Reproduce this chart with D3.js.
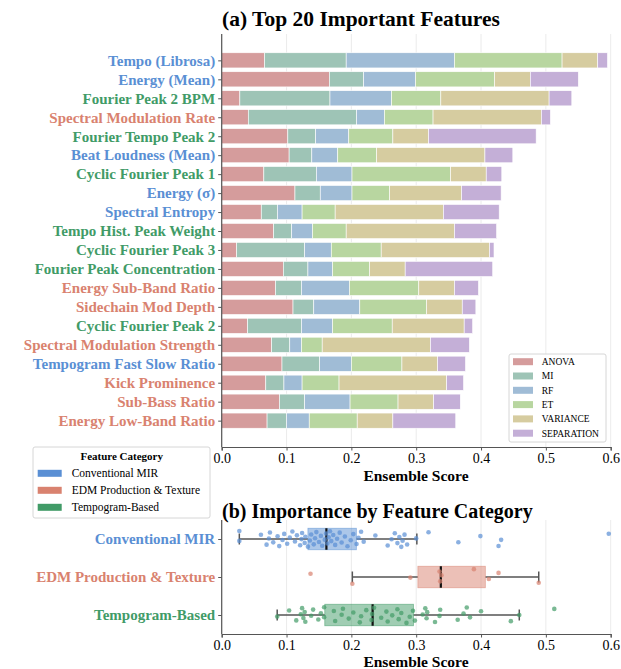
<html>
<head>
<meta charset="utf-8">
<script src="https://d3js.org/d3.v7.min.js"></script>
<style>
  body { margin: 0; background: #fff; }
  text { font-family: "Liberation Serif", "Times New Roman", serif; }
</style>
</head>
<body>
<svg id="chart" width="621" height="669"></svg>
<script>
// ---- data ----
var features = ["Tempo (Librosa)", "Energy (Mean)", "Fourier Peak 2 BPM", "Spectral Modulation Rate",
  "Fourier Tempo Peak 2", "Beat Loudness (Mean)", "Cyclic Fourier Peak 1", "Energy (\u03c3)",
  "Spectral Entropy", "Tempo Hist. Peak Weight", "Cyclic Fourier Peak 3", "Fourier Peak Concentration",
  "Energy Sub-Band Ratio", "Sidechain Mod Depth", "Cyclic Fourier Peak 2", "Spectral Modulation Strength",
  "Tempogram Fast Slow Ratio", "Kick Prominence", "Sub-Bass Ratio", "Energy Low-Band Ratio"];
// 0 = Conventional MIR, 1 = EDM Production & Texture, 2 = Tempogram-Based
var featureCat = [0, 0, 2, 1, 2, 0, 2, 0, 0, 2, 2, 2, 1, 1, 2, 1, 0, 1, 1, 1];

var anova      = [0.066, 0.166, 0.028, 0.041, 0.102, 0.104, 0.065, 0.113, 0.061, 0.080, 0.023, 0.095, 0.083, 0.110, 0.040, 0.077, 0.093, 0.068, 0.089, 0.070];
var mi         = [0.126, 0.053, 0.139, 0.167, 0.043, 0.035, 0.081, 0.039, 0.025, 0.028, 0.105, 0.038, 0.040, 0.032, 0.083, 0.028, 0.058, 0.028, 0.039, 0.030];
var rf         = [0.167, 0.080, 0.095, 0.043, 0.051, 0.040, 0.055, 0.049, 0.038, 0.032, 0.041, 0.038, 0.074, 0.071, 0.048, 0.018, 0.049, 0.028, 0.070, 0.035];
var et         = [0.166, 0.122, 0.076, 0.075, 0.068, 0.060, 0.152, 0.058, 0.051, 0.052, 0.077, 0.057, 0.107, 0.103, 0.092, 0.032, 0.078, 0.057, 0.074, 0.074];
var variance   = [0.055, 0.055, 0.167, 0.167, 0.055, 0.167, 0.055, 0.111, 0.167, 0.167, 0.167, 0.055, 0.055, 0.055, 0.111, 0.167, 0.055, 0.166, 0.055, 0.055];
var separation = [0.015, 0.074, 0.035, 0.014, 0.166, 0.043, 0.024, 0.061, 0.086, 0.065, 0.007, 0.135, 0.037, 0.021, 0.013, 0.060, 0.043, 0.026, 0.041, 0.097];

var methods = ["ANOVA", "MI", "RF", "ET", "VARIANCE", "SEPARATION"];
var methodColors = ["#d59c9c", "#9ec4b6", "#a0bcd6", "#b8d6a0", "#d6cca0", "#c4afd7"];

var categories = ["Conventional MIR", "EDM Production & Texture", "Tempogram-Based"];
var catColors = ["#5a8fd4", "#d9826f", "#419b67"];

var xTicks = [0, 0.1, 0.2, 0.3, 0.4, 0.5, 0.6];

// box statistics per category
var boxQ1  = [0.133, 0.3026, 0.159];
var boxMed = [0.1615, 0.338, 0.2328];
var boxQ3  = [0.2077, 0.4066, 0.2958];
var whiskLo = [0.0272, 0.2015, 0.0856];
var whiskHi = [0.301, 0.489, 0.459];

// individual feature scores per category
var mirScores = [0.0272, 0.0272, 0.0605, 0.0692, 0.0728, 0.0744, 0.0795, 0.0862, 0.0887, 0.0938, 0.0964, 0.101,
  0.105, 0.109, 0.113, 0.116, 0.121, 0.123, 0.124, 0.128, 0.129, 0.133, 0.136, 0.138, 0.142, 0.144, 0.146,
  0.150, 0.153, 0.155, 0.159, 0.161, 0.163, 0.165, 0.167, 0.169, 0.172, 0.175, 0.178, 0.182, 0.185, 0.190,
  0.194, 0.199, 0.203, 0.208, 0.211, 0.215, 0.219, 0.237, 0.256, 0.262, 0.267, 0.271, 0.274, 0.277, 0.279,
  0.282, 0.286, 0.300, 0.319, 0.365, 0.399, 0.427, 0.431, 0.597];
var edmScores = [0.137, 0.2015, 0.291, 0.336, 0.337, 0.339, 0.389, 0.412, 0.427, 0.489];
var tempoScores = [0.0856, 0.104, 0.115, 0.122, 0.124, 0.126, 0.128, 0.129, 0.138, 0.141, 0.149, 0.153, 0.158,
  0.158, 0.173, 0.175, 0.185, 0.187, 0.196, 0.203, 0.213, 0.215, 0.223, 0.231, 0.232, 0.235, 0.246, 0.254,
  0.256, 0.263, 0.271, 0.273, 0.277, 0.285, 0.29, 0.295, 0.298, 0.31, 0.314, 0.316, 0.317, 0.329, 0.336,
  0.337, 0.364, 0.373, 0.378, 0.383, 0.400, 0.446, 0.459, 0.513];
var catScores = [mirScores, edmScores, tempoScores];

// ---- drawing ----
var svg = d3.select("#chart");
var x = d3.scaleLinear().domain([0, 0.6]).range([221.7, 610.7]);
var spine = "#555";

function drawXAxis(yPos, top) {
  svg.append("g").selectAll("line").data(xTicks).enter().append("line")
    .attr("x1", function(d) { return x(d); }).attr("x2", function(d) { return x(d); })
    .attr("y1", top).attr("y2", yPos)
    .attr("stroke", "#e6e6e6").attr("stroke-width", 0.8);
  var ax = svg.append("g").attr("transform", "translate(0," + yPos + ")")
    .call(d3.axisBottom(x).tickValues(xTicks).tickFormat(d3.format(".1f")).tickSize(3.5).tickPadding(3));
  ax.select(".domain").attr("stroke", spine).attr("stroke-width", 1.2);
  ax.selectAll(".tick line").attr("stroke", spine);
  ax.selectAll("text").style("font-family", "Liberation Serif").style("font-size", "14px").attr("fill", "#000");
}

// (a) stacked bars
var yA = d3.scaleLinear().domain([-1.39, 20.39]).range([34, 447]);
var table = features.map(function(f, i) {
  return { ANOVA: anova[i], MI: mi[i], RF: rf[i], ET: et[i], VARIANCE: variance[i], SEPARATION: separation[i] };
});
var stacked = d3.stack().keys(methods)(table);

drawXAxis(447, 34);

svg.append("g").selectAll("g").data(stacked).enter().append("g")
  .attr("fill", function(d, i) { return methodColors[i]; })
  .selectAll("rect").data(function(d) { return d; }).enter().append("rect")
  .attr("x", function(d) { return x(d[0]); })
  .attr("width", function(d) { return x(d[1]) - x(d[0]); })
  .attr("y", function(d, i) { return yA(i - 0.4); })
  .attr("height", yA(0.8) - yA(0))
  .attr("stroke", "#fff").attr("stroke-width", 0.6);

var leftA = svg.append("g").attr("transform", "translate(" + x(0) + ",0)")
  .call(d3.axisLeft(yA).tickValues(d3.range(20)).tickFormat(function(d) { return features[d]; }).tickSize(3.5).tickPadding(3));
leftA.select(".domain").attr("d", "M0,34V447").attr("stroke", spine).attr("stroke-width", 1.2);
leftA.selectAll(".tick line").attr("stroke", spine);
leftA.selectAll("text")
  .style("font-family", "Liberation Serif").style("font-size", "15px").style("font-weight", "bold")
  .attr("fill", function(d) { return catColors[featureCat[d]]; });

svg.append("text").attr("x", 222).attr("y", 26)
  .style("font-size", "21.5px").style("font-weight", "bold").text("(a) Top 20 Important Features");
svg.append("text").attr("x", 416).attr("y", 481).attr("text-anchor", "middle")
  .style("font-size", "15.5px").style("font-weight", "bold").text("Ensemble Score");

// method legend
var lg = svg.append("g");
lg.append("rect").attr("x", 509).attr("y", 354).attr("width", 97).attr("height", 88).attr("rx", 2)
  .attr("fill", "#fff").attr("fill-opacity", 0.85).attr("stroke", "#d6d6d6");
methods.forEach(function(m, i) {
  var cy = 361.7 + i * 14.3;
  lg.append("rect").attr("x", 513).attr("y", cy - 3.5).attr("width", 20).attr("height", 7).attr("fill", methodColors[i]);
  lg.append("text").attr("x", 541.7).attr("y", cy).attr("dy", "0.35em").style("font-size", "9.5px").text(m);
});

// category legend
var lc = svg.append("g");
lc.append("rect").attr("x", 33).attr("y", 447).attr("width", 177).attr("height", 71).attr("rx", 2)
  .attr("fill", "#fff").attr("stroke", "#d6d6d6");
lc.append("text").attr("x", 121.7).attr("y", 460).attr("text-anchor", "middle")
  .style("font-size", "11px").style("font-weight", "bold").text("Feature Category");
categories.forEach(function(c, i) {
  var cy = 473.3 + i * 17;
  lc.append("rect").attr("x", 37.7).attr("y", cy - 3.5).attr("width", 24).attr("height", 7).attr("fill", catColors[i]);
  lc.append("text").attr("x", 71.7).attr("y", cy).attr("dy", "0.35em").style("font-size", "11.5px").text(c);
});

// (b) box plot by category
var yB = d3.scaleLinear().domain([-0.5, 2.5]).range([520, 634]);
drawXAxis(634, 520);

var boxH = 21.5;
var bx = svg.append("g");
categories.forEach(function(c, i) {
  var cy = yB(i);
  bx.append("line").attr("x1", x(whiskLo[i])).attr("x2", x(boxQ1[i])).attr("y1", cy).attr("y2", cy)
    .attr("stroke", "#555").attr("stroke-width", 1.5);
  bx.append("line").attr("x1", x(boxQ3[i])).attr("x2", x(whiskHi[i])).attr("y1", cy).attr("y2", cy)
    .attr("stroke", "#555").attr("stroke-width", 1.5);
  [whiskLo[i], whiskHi[i]].forEach(function(v) {
    bx.append("line").attr("x1", x(v)).attr("x2", x(v)).attr("y1", cy - 5.5).attr("y2", cy + 5.5)
      .attr("stroke", "#555").attr("stroke-width", 1.5);
  });
  bx.append("rect").attr("x", x(boxQ1[i])).attr("width", x(boxQ3[i]) - x(boxQ1[i]))
    .attr("y", cy - boxH / 2).attr("height", boxH)
    .attr("fill", catColors[i]).attr("fill-opacity", 0.5)
    .attr("stroke", catColors[i]).attr("stroke-opacity", 0.6).attr("stroke-width", 0.8);
  bx.append("line").attr("x1", x(boxMed[i])).attr("x2", x(boxMed[i]))
    .attr("y1", cy - boxH / 2).attr("y2", cy + boxH / 2)
    .attr("stroke", "#111").attr("stroke-width", 2.2);

  // stripped points, spread with a fixed golden-ratio jitter
  bx.append("g").selectAll("circle").data(catScores[i]).enter().append("circle")
    .attr("cx", function(d) { return x(d); })
    .attr("cy", function(d, j) { return cy + (((j * 0.618034 + i * 0.3) % 1) - 0.5) * 16; })
    .attr("r", 2.3)
    .attr("fill", catColors[i]).attr("fill-opacity", 0.7);
});

var leftB = svg.append("g").attr("transform", "translate(" + x(0) + ",0)")
  .call(d3.axisLeft(yB).tickValues([0, 1, 2]).tickFormat(function(d) { return categories[d]; }).tickSize(3.5).tickPadding(3));
leftB.select(".domain").attr("d", "M0,520V634").attr("stroke", spine).attr("stroke-width", 1.2);
leftB.selectAll(".tick line").attr("stroke", spine);
leftB.selectAll("text")
  .style("font-family", "Liberation Serif").style("font-size", "15px").style("font-weight", "bold")
  .attr("fill", function(d) { return catColors[d]; });

svg.append("text").attr("x", 222).attr("y", 518)
  .style("font-size", "20px").style("font-weight", "bold").text("(b) Importance by Feature Category");
svg.append("text").attr("x", 416).attr("y", 667).attr("text-anchor", "middle")
  .style("font-size", "15.5px").style("font-weight", "bold").text("Ensemble Score");
</script>
</body>
</html>
